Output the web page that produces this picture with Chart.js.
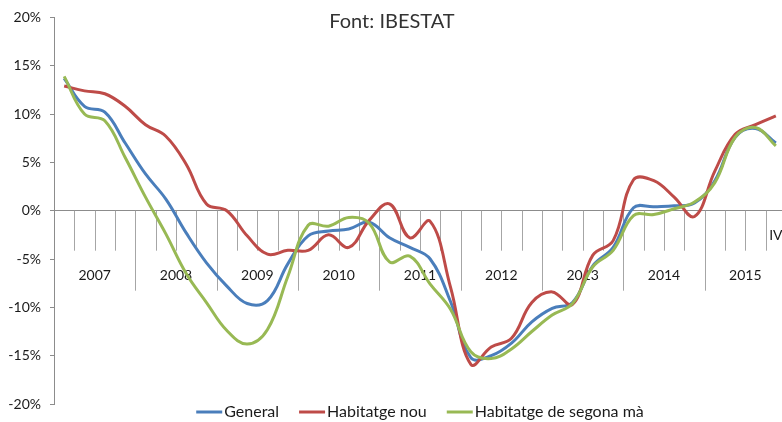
<!DOCTYPE html>
<html>
<head>
<meta charset="utf-8">
<script src="https://cdn.jsdelivr.net/npm/chart.js@4.4.1/dist/chart.umd.min.js"></script>
<style>
  html, body { margin: 0; padding: 0; overflow: hidden; background: #fff; }
  #wrap { width: 790px; height: 422px; }
</style>
</head>
<body>
<div id="wrap"><canvas id="chart" width="790" height="422"></canvas></div>
<script>
// Quarterly year-on-year change (%) of the housing price index
const years = ['2007', '2008', '2009', '2010', '2011', '2012', '2013', '2014', '2015'];
const quarters = ['I', 'II', 'III', 'IV'];
const yTicks = [-20, -15, -10, -5, 0, 5, 10, 15, 20];

const general = [13.7, 10.8, 10.2, 7.0, 3.8, 1.2, -2.3, -5.4, -7.8, -9.6, -9.3, -5.5,
                 -2.6, -2.1, -1.9, -1.2, -2.8, -3.8, -5.0, -9.4, -15.2, -15.0, -13.7, -11.5,
                 -10.1, -9.5, -5.7, -3.8, 0.3, 0.4, 0.5, 0.8, 3.1, 7.6, 8.5, 7.0];
const habitatgeNou = [12.9, 12.4, 12.1, 10.8, 8.9, 7.7, 4.8, 0.7, 0.0, -2.6, -4.5, -4.1,
                      -4.1, -2.5, -3.8, -1.0, 0.7, -2.8, -1.1, -7.9, -15.9, -14.1, -13.2, -9.5,
                      -8.4, -9.7, -4.6, -3.1, 3.2, 3.1, 1.4, -0.6, 4.1, 7.9, 8.9, 9.8];
const segonaMa = [13.9, 10.0, 9.3, 5.5, 1.4, -2.4, -6.5, -9.5, -12.4, -13.8, -12.3, -6.8,
                  -1.5, -1.6, -0.7, -1.3, -5.3, -4.7, -7.6, -10.2, -14.6, -15.3, -14.3, -12.5,
                  -10.8, -9.6, -5.8, -4.1, -0.5, -0.4, 0.2, 0.9, 2.9, 7.6, 8.6, 6.7];

const labels = [];
years.forEach(y => quarters.forEach(q => labels.push(q + ' ' + y)));

const FONT = 'Lato';

// quarter ticks hanging under the zero line, year separators and year names
const quarterAxis = {
  id: 'quarterAxis',
  beforeDatasetsDraw(chart) {
    const ctx = chart.ctx;
    const x = chart.scales.x;
    const y0 = chart.scales.y.getPixelForValue(0);
    const step = x.getPixelForValue(1) - x.getPixelForValue(0);
    ctx.save();
    ctx.lineWidth = 1;
    ctx.strokeStyle = '#a6a6a6';
    for (let i = 1; i <= labels.length; i++) {
      const px = Math.round(x.getPixelForValue(i) - step / 2) + 0.5;
      const len = i % 4 === 0 ? 80 : 40;
      ctx.beginPath();
      ctx.moveTo(px, y0);
      ctx.lineTo(px, y0 + len);
      ctx.stroke();
    }
    ctx.fillStyle = '#1a1a1a';
    ctx.font = '14px ' + FONT;
    ctx.textAlign = 'center';
    ctx.textBaseline = 'middle';
    years.forEach((yr, k) => {
      const cx = (x.getPixelForValue(k * 4) + x.getPixelForValue(k * 4 + 3)) / 2;
      ctx.fillText(yr, cx, y0 + 65);
    });
    ctx.fillText(quarters[3], x.getPixelForValue(labels.length - 1), y0 + 25);
    ctx.restore();
  }
};

// source note and legend
const notes = {
  id: 'notes',
  afterDraw(chart) {
    const ctx = chart.ctx;
    const area = chart.chartArea;
    ctx.save();
    ctx.fillStyle = '#333';
    ctx.font = '20px ' + FONT;
    ctx.textAlign = 'center';
    ctx.textBaseline = 'middle';
    ctx.fillText('Font: IBESTAT', 392, 22);

    ctx.font = '16px ' + FONT;
    ctx.textAlign = 'left';
    const lineW = 26, gap = 2, spacing = 20;
    const items = chart.data.datasets.map(ds => ({
      text: ds.label, color: ds.borderColor, w: ctx.measureText(ds.label).width
    }));
    const total = items.reduce((s, it) => s + lineW + gap + it.w, 0) + spacing * (items.length - 1);
    let cx = (area.left + area.right) / 2 - total / 2;
    const ly = 412;
    items.forEach(it => {
      ctx.strokeStyle = it.color;
      ctx.lineWidth = 3;
      ctx.beginPath();
      ctx.moveTo(cx, ly);
      ctx.lineTo(cx + lineW, ly);
      ctx.stroke();
      ctx.fillStyle = '#1a1a1a';
      ctx.fillText(it.text, cx + lineW + gap, ly);
      cx += lineW + gap + it.w + spacing;
    });
    ctx.restore();
  }
};

new Chart(document.getElementById('chart'), {
  type: 'line',
  data: {
    labels: labels,
    datasets: [
      { label: 'General', data: general, borderColor: '#4a7ebb', order: 2 },
      { label: 'Habitatge nou', data: habitatgeNou, borderColor: '#be4b48', order: 1 },
      { label: 'Habitatge de segona mà', data: segonaMa, borderColor: '#98b954', order: 0 }
    ]
  },
  options: {
    responsive: false,
    animation: false,
    devicePixelRatio: 1,
    layout: { padding: { top: 16, right: 4, bottom: 18, left: 0 } },
    elements: {
      line: { borderWidth: 3, tension: 0.4, fill: false },
      point: { radius: 0 }
    },
    plugins: {
      legend: { display: false },
      tooltip: { enabled: false }
    },
    scales: {
      x: {
        display: false,
        offset: true
      },
      y: {
        min: -20,
        max: 20,
        afterBuildTicks: scale => { scale.ticks = yTicks.map(v => ({ value: v })); },
        afterFit: scale => { scale.width = 54; },
        border: { color: '#8c8c8c' },
        grid: {
          color: c => (c.tick && c.tick.value === 0 ? '#8c8c8c' : 'transparent'),
          tickColor: '#8c8c8c',
          tickLength: 4
        },
        ticks: {
          padding: 9,
          color: '#1a1a1a',
          font: { family: FONT, size: 14 },
          callback: v => v + '%'
        }
      }
    }
  },
  plugins: [quarterAxis, notes]
});
</script>
</body>
</html>
